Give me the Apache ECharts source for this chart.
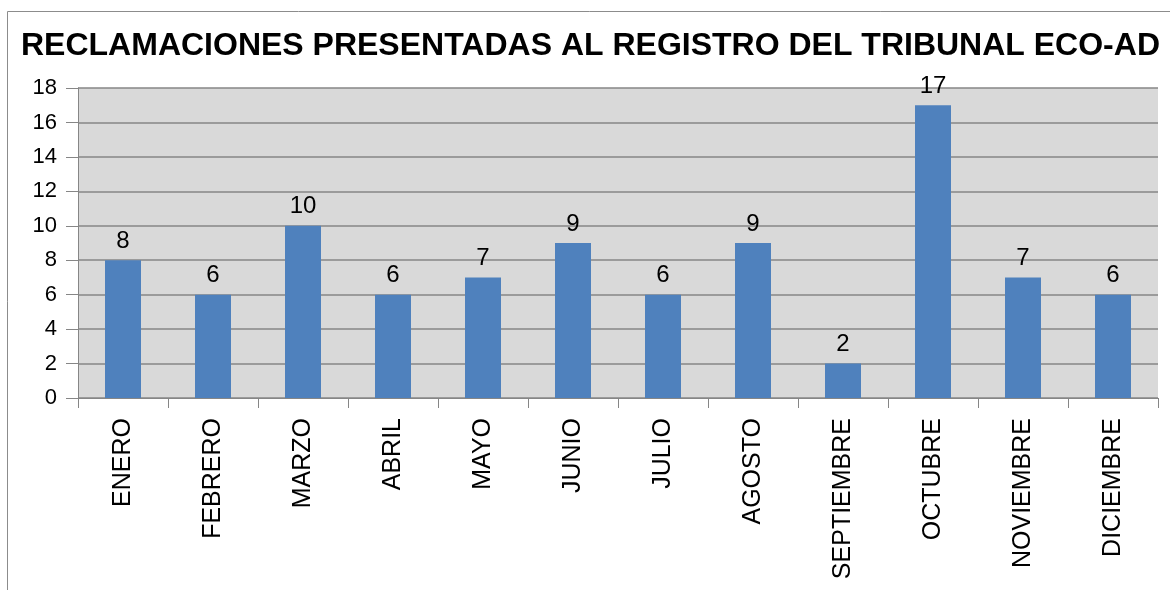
<!DOCTYPE html>
<html>
<head>
<meta charset="utf-8">
<script src="https://cdn.jsdelivr.net/npm/echarts@6/dist/echarts.min.js"></script>
<style>
  html, body { margin: 0; padding: 0; background: #fff; }
  #chart { width: 1170px; height: 590px; }
</style>
</head>
<body>
<div id="chart"></div>
<script>
var titleText = "RECLAMACIONES PRESENTADAS AL REGISTRO DEL TRIBUNAL ECO-AD";
var months = ["ENERO", "FEBRERO", "MARZO", "ABRIL", "MAYO", "JUNIO", "JULIO", "AGOSTO", "SEPTIEMBRE", "OCTUBRE", "NOVIEMBRE", "DICIEMBRE"];
var claims = [8, 6, 10, 6, 7, 9, 6, 9, 2, 17, 7, 6];

var font = "Liberation Sans, Arial, sans-serif";
var chart = echarts.init(document.getElementById("chart"));

chart.setOption({
    animation: false,
    title: {
        text: titleText,
        left: 16,
        top: 25,
        textStyle: {fontFamily: font, fontSize: 32, fontWeight: "bold", color: "#000"}
    },
    graphic: [{
        type: "rect",
        shape: {x: 7.5, y: 11.5, width: 1200, height: 700},
        style: {fill: null, stroke: "#8c8c8c", lineWidth: 1},
        silent: true
    }],
    grid: {left: 78, right: 12, top: 88, bottom: 192, backgroundColor: "#d9d9d9", show: true, borderWidth: 0},
    xAxis: {
        type: "category",
        data: months,
        axisLine: {lineStyle: {color: "#868686", width: 1}},
        axisTick: {show: true, alignWithLabel: false, length: 10, lineStyle: {color: "#868686"}},
        axisLabel: {rotate: 90, margin: 20, fontFamily: font, fontSize: 25, color: "#000", interval: 0}
    },
    yAxis: {
        type: "value",
        min: 0,
        max: 18,
        interval: 2,
        axisLine: {show: true, lineStyle: {color: "#868686", width: 1}},
        axisTick: {show: true, length: 12, lineStyle: {color: "#868686"}},
        splitLine: {lineStyle: {color: "#868686", width: 1.5}},
        axisLabel: {margin: 21, fontFamily: font, fontSize: 22, color: "#000"}
    },
    series: [{
        type: "bar",
        data: claims,
        barWidth: 36,
        itemStyle: {color: "#4f81bd"},
        label: {show: true, position: "top", distance: 7, fontFamily: font, fontSize: 24, color: "#000"}
    }]
});
</script>
</body>
</html>
